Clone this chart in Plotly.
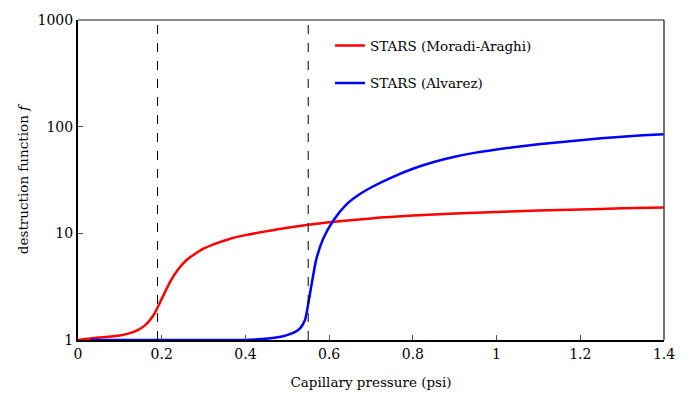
import plotly.graph_objects as go

# Moradi-Araghi (red)
red_x = [0.0, 0.04, 0.08, 0.10, 0.12, 0.14, 0.16, 0.18, 0.20, 0.22, 0.24, 0.26, 0.28, 0.30, 0.33, 0.36, 0.40, 0.45, 0.50, 0.55, 0.60, 0.70, 0.80, 0.90, 1.0, 1.1, 1.2, 1.3, 1.4]
red_y = [1.0, 1.042, 1.079, 1.102, 1.148, 1.225, 1.371, 1.698, 2.427, 3.508, 4.624, 5.649, 6.427, 7.178, 8.054, 8.810, 9.616, 10.45, 11.27, 12.02, 12.68, 13.80, 14.66, 15.31, 15.85, 16.33, 16.75, 17.14, 17.50]

# Alvarez (blue)
blue_x = [0.03, 0.1, 0.2, 0.3, 0.4, 0.43, 0.459, 0.49, 0.506, 0.52, 0.530, 0.542, 0.55, 0.558, 0.570, 0.586, 0.610, 0.642, 0.67, 0.70, 0.75, 0.80, 0.85, 0.90, 0.95, 1.0, 1.05, 1.1, 1.15, 1.2, 1.25, 1.3, 1.35, 1.4]
blue_y = [1.0, 1.0, 1.0, 1.0, 1.0, 1.015, 1.037, 1.084, 1.135, 1.20, 1.28, 1.53, 2.17, 3.31, 5.85, 8.93, 13.2, 18.8, 22.9, 26.9, 33.5, 40.3, 46.6, 52.2, 57.1, 61.2, 64.9, 68.4, 71.6, 74.6, 77.8, 80.5, 83.0, 85.1]

vlines_x = [0.19, 0.55]

x_ticks = [0, 0.2, 0.4, 0.6, 0.8, 1, 1.2, 1.4]
x_tick_text = ["0", "0.2", "0.4", "0.6", "0.8", "1", "1.2", "1.4"]
y_ticks = [1, 10, 100, 1000]
y_tick_text = ["1", "10", "100", "1000"]

FONT = "DejaVu Serif"

fig = go.Figure()
fig.add_trace(go.Scatter(x=red_x, y=red_y, mode="lines", name="STARS (Moradi-Araghi)",
                         line=dict(color="#ff0000", width=2.5, shape="spline", smoothing=0.8),
                         legendgroup="a"))
fig.add_trace(go.Scatter(x=blue_x, y=blue_y, mode="lines", name="STARS (Alvarez)",
                         line=dict(color="#0000ff", width=2.5, shape="spline", smoothing=0.8),
                         legendgroup="b"))

for vx in vlines_x:
    fig.add_shape(type="line", xref="x", yref="paper", x0=vx, x1=vx, y0=0, y1=1,
                  line=dict(color="black", width=1, dash="dash"))

# top and right frame lines
fig.add_shape(type="line", xref="paper", yref="paper", x0=0, x1=1, y0=1, y1=1,
              line=dict(color="#666666", width=1.5))
fig.add_shape(type="line", xref="paper", yref="paper", x0=1, x1=1, y0=0, y1=1,
              line=dict(color="#444444", width=1.5))

fig.update_layout(
    width=692, height=403,
    margin=dict(l=78, r=28, t=14, b=63),
    paper_bgcolor="white", plot_bgcolor="white",
    font=dict(family=FONT, size=14, color="black"),
    showlegend=True,
    legend=dict(x=0.43, y=0.968, xanchor="left", yanchor="top", bgcolor="rgba(0,0,0,0)",
                font=dict(family=FONT, size=13.5, color="black"), tracegroupgap=17, itemwidth=30),
)
fig.update_xaxes(range=[0, 1.4], tickvals=x_ticks, ticktext=x_tick_text,
                 showgrid=False, zeroline=False, showline=True, linecolor="black", linewidth=2,
                 ticks="inside", ticklen=5, tickcolor="#555555",
                 title=dict(text="Capillary pressure (psi)", font=dict(family=FONT, size=13.5, color="black"), standoff=17),
                 tickfont=dict(family=FONT, size=14, color="black"))
fig.update_yaxes(type="log", range=[0, 3], tickvals=y_ticks, ticktext=y_tick_text,
                 showgrid=False, zeroline=False, showline=True, linecolor="black", linewidth=2,
                 ticks="inside", ticklen=5, tickcolor="#555555",
                 title=dict(text="destruction function <i>f</i>", font=dict(family=FONT, size=13.5, color="black"), standoff=6),
                 tickfont=dict(family=FONT, size=14, color="black"))

fig.write_html("out.html")
